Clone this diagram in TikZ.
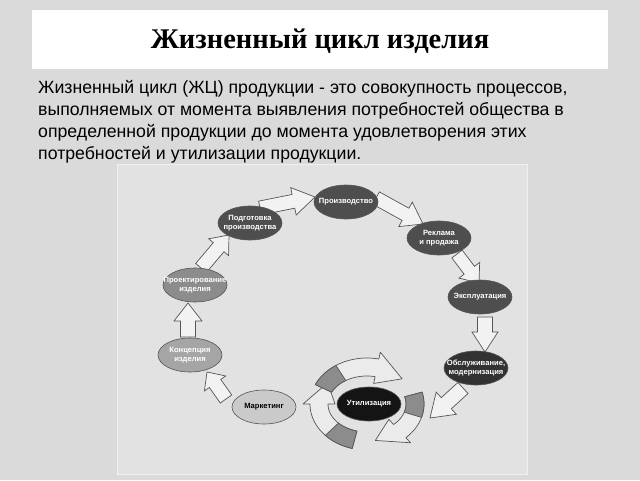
\documentclass[tikz,border=0pt]{standalone}
\usepackage{fontspec}
\setmainfont{Liberation Sans}
\newfontfamily\titlefont{Liberation Serif}
\usetikzlibrary{shapes.geometric,calc}
\definecolor{bg}{RGB}{218,218,218}
\definecolor{panelbg}{RGB}{226,226,226}
\definecolor{fdark}{RGB}{78,78,78}
\definecolor{fdarker}{RGB}{50,50,50}
\definecolor{fblack}{RGB}{20,20,20}
\definecolor{fmid}{RGB}{140,140,140}
\definecolor{flight}{RGB}{165,165,165}
\definecolor{fpale}{RGB}{202,202,202}
\definecolor{outl}{RGB}{85,85,85}
\newcommand\lbl[1]{\makebox[36pt]{#1}}
\newcommand\blockarr[5]{%
  \coordinate (hb) at ($(#2)!#5!(#1)$);
  \draw[barrow] ($(#1)!#3!90:(#2)$) -- ($(hb)!#3!90:(#2)$) -- ($(hb)!#4!90:(#2)$) -- (#2)
    -- ($(hb)!#4!-90:(#2)$) -- ($(hb)!#3!-90:(#2)$) -- ($(#1)!#3!-90:(#2)$) -- cycle;}
\def\cx{367}\def\cy{404}\def\rx{48}\def\ry{37}\def\rw{9}\def\rh{16}
\newcommand\recarrow[4]{%
  \draw[recyc] plot[domain=#1:#2,samples=30] ({\cx+(\rx+\rw)*cos(\x)},{\cy+(\ry+\rw)*sin(\x)})
    -- ({\cx+(\rx+\rh)*cos(#2)},{\cy+(\ry+\rh)*sin(#2)})
    -- ({\cx+\rx*cos(#3)},{\cy+\ry*sin(#3)})
    -- ({\cx+(\rx-\rh)*cos(#2)},{\cy+(\ry-\rh)*sin(#2)})
    -- plot[domain=#2:#1,samples=30] ({\cx+(\rx-\rw)*cos(\x)},{\cy+(\ry-\rw)*sin(\x)}) -- cycle;
  \draw[recdark] plot[domain=#1:#4,samples=12] ({\cx+(\rx+\rw)*cos(\x)},{\cy+(\ry+\rw)*sin(\x)})
    -- plot[domain=#4:#1,samples=12] ({\cx+(\rx-\rw)*cos(\x)},{\cy+(\ry-\rw)*sin(\x)}) -- cycle;}
\begin{document}
\begin{tikzpicture}[x=1pt,y=-1pt,
  stage/.style={ellipse, draw=outl, line width=0.6pt, minimum width=64pt, minimum height=34pt,
    inner sep=0pt, text=white, align=center, font=\bfseries\fontsize{7.6}{9}\selectfont},
  barrow/.style={draw=outl, fill=black!5, line width=0.7pt, line join=miter},
  recyc/.style={draw=outl, fill=black!8, line width=0.7pt, line join=round},
  recdark/.style={draw=outl, fill=black!45, line width=0.7pt}]
\fill[bg] (0,0) rectangle (640,480);
\useasboundingbox (0,0) rectangle (640,480);
\fill[white] (32,10) rectangle (608,69);
\node[font=\titlefont\bfseries\fontsize{28.5}{32}\selectfont] (title) at (320,41) {Жизненный цикл изделия};
\node[anchor=north west, align=left, inner sep=0pt, font=\fontsize{17.7}{21.8}\selectfont] (para) at (38,80.5)
  {Жизненный цикл (ЖЦ) продукции - это совокупность процессов,\\
   выполняемых от момента выявления потребностей общества в\\
   определенной продукции до момента удовлетворения этих\\
   потребностей и утилизации продукции.};
\draw[draw=white!45!panelbg, line width=1pt, fill=panelbg] (117,164) rectangle (527,474);
% block arrows
\coordinate (a1s) at (226,399); \coordinate (a1e) at (207,372);
\coordinate (a2s) at (188,337); \coordinate (a2e) at (188,303);
\coordinate (a3s) at (201,268); \coordinate (a3e) at (229,235);
\coordinate (a4s) at (260,208); \coordinate (a4e) at (315,197);
\coordinate (a5s) at (376,198); \coordinate (a5e) at (423,224);
\coordinate (a6s) at (457,254); \coordinate (a6e) at (479,283);
\coordinate (a7s) at (485,317); \coordinate (a7e) at (485,352);
\coordinate (a8s) at (463,388); \coordinate (a8e) at (430,418);
\blockarr{a1s}{a1e}{7pt}{13pt}{14pt}
\blockarr{a2s}{a2e}{7.5pt}{14pt}{18pt}
\blockarr{a3s}{a3e}{7pt}{13pt}{16pt}
\blockarr{a4s}{a4e}{7pt}{14pt}{22pt}
\blockarr{a5s}{a5e}{7pt}{14pt}{20pt}
\blockarr{a6s}{a6e}{6.5pt}{13pt}{16pt}
\blockarr{a7s}{a7e}{7.5pt}{13pt}{20pt}
\blockarr{a8s}{a8e}{7.5pt}{15pt}{22pt}
% recycling arrows
\recarrow{105}{180}{215}{137}
\recarrow{205}{282}{317}{237}
\recarrow{-15}{47}{80}{17}
% stages
\node[stage, fill=fdark] (podg) at (250,223) {\lbl{Подготовка}\\\lbl{производства}};
\node[stage, fill=fdark] (proizv) at (346,202) {\lbl{Производство}};
\node[stage, fill=fdark] (rekl) at (439,238) {\lbl{Реклама}\\\lbl{и продажа}};
\node[stage, fill=fdark] (expl) at (480,297) {\lbl{Эксплуатация}};
\node[stage, fill=fdarker] (obsl) at (476,368) {\lbl{Обслуживание,}\\\lbl{модернизация}};
\node[stage, fill=fblack] (util) at (369,404) {\lbl{Утилизация}};
\node[stage, fill=fpale, text=black] (mark) at (264,407) {\lbl{Маркетинг}};
\node[stage, fill=flight] (konc) at (190,355) {\lbl{Концепция}\\\lbl{изделия}};
\node[stage, fill=fmid] (proj) at (195,285) {\lbl{Проектирование}\\\lbl{изделия}};
\end{tikzpicture}
\end{document}
